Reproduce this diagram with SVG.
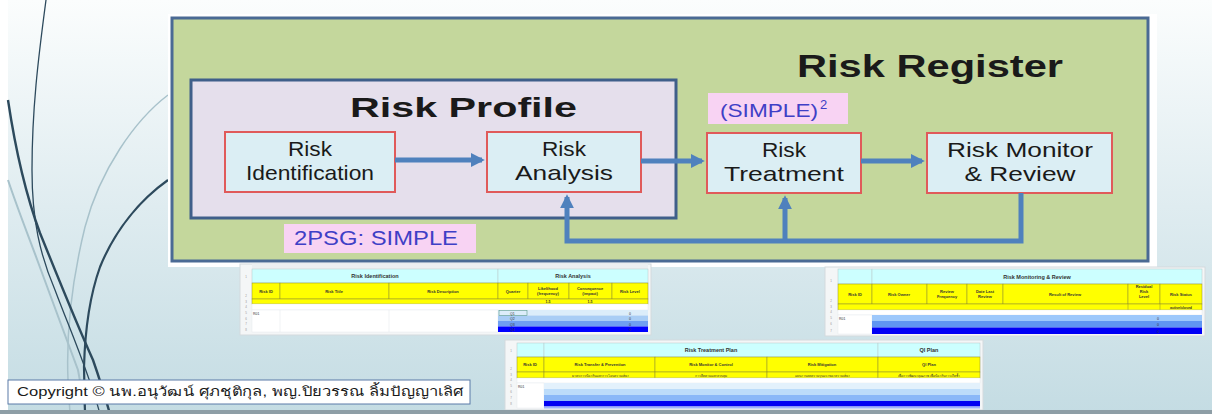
<svg xmlns="http://www.w3.org/2000/svg" width="1212" height="414" viewBox="0 0 1212 414">
<defs>
<linearGradient id="bg" x1="0" y1="0" x2="0" y2="1">
<stop offset="0" stop-color="#fbfdfd"/>
<stop offset="0.5" stop-color="#dfecf0"/>
<stop offset="1" stop-color="#c4dce3"/>
</linearGradient>
<marker id="ah" viewBox="0 0 10 10" refX="8" refY="5" markerWidth="2.8" markerHeight="3" orient="auto" markerUnits="strokeWidth">
<path d="M0,0 L10,5 L0,10 z" fill="#4f81bd"/>
</marker>
<style>
.t{font-family:"Liberation Sans",Arial,sans-serif;fill:#1a1a1a}
.b{font-weight:bold}
.lbl{font-size:21px;text-anchor:middle}
.box{fill:#dbeef4;stroke:#e05a5a;stroke-width:2}
.pink{fill:#f8d3f3}
.pt{font-family:"Liberation Sans",Arial,sans-serif;fill:#3f3fc6}
.con{fill:none;stroke:#4f81bd;stroke-width:5}
.cy{fill:#ccffff;stroke:#b8c8c8;stroke-width:0.5}
.ye{fill:#ffff00;stroke:#8a8a30;stroke-width:0.5}
.wh{fill:#ffffff;stroke:#e2e6e8;stroke-width:0.4}
.st{font-family:"Liberation Sans",Arial,sans-serif;font-weight:bold;fill:#333;text-anchor:middle}
.sm{font-family:"Liberation Sans",Arial,sans-serif;fill:#333}
.rn{font-family:"Liberation Sans",Arial,sans-serif;fill:#999;font-size:3px;text-anchor:middle}
.curve{fill:none;stroke:#2d4a5d}
.curvel{fill:none;stroke:#a8c2cb}
</style>
</defs>
<rect x="0" y="0" width="1212" height="414" fill="url(#bg)"/>
<rect x="0" y="0" width="8" height="414" fill="#ffffff"/>
<g id="decor">
<path class="curvel" stroke-width="1.5" d="M168,95 C135,120 100,170 85,227 C72,280 66,330 68,380 L70,414"/>
<path class="curvel" stroke-width="2" d="M8,180 C18,210 30,240 38,262 C50,295 65,335 78,370 L86,414"/>
<path class="curve" stroke-width="1.3" d="M46,0 C38,60 32,110 32,170 C32,220 40,255 55,290 C70,330 88,370 100,414"/>
<path class="curve" stroke-width="2.4" d="M8,100 C14,140 24,190 40,233 C55,270 75,320 93,360 C100,380 106,400 110,414"/>
<path class="curve" stroke-width="2.2" d="M168,180 C140,200 115,230 100,267 C90,295 85,330 84,367 L85,414"/>
</g>
<rect x="168" y="14" width="989" height="253" fill="#ffffff"/>
<g id="risk-register">
<rect x="172" y="18" width="976" height="243" fill="#c4d79c" stroke="#4a6a94" stroke-width="3"/>
<text class="t b" x="797" y="77" font-size="32" textLength="266" lengthAdjust="spacingAndGlyphs">Risk Register</text>
</g>
<g id="risk-profile">
<rect x="191" y="80" width="485" height="138" fill="#e5dfec" stroke="#3f5f8a" stroke-width="3"/>
<text class="t b" x="350" y="117" font-size="28" textLength="227" lengthAdjust="spacingAndGlyphs">Risk Profile</text>
</g>
<g id="risk-identification">
<rect class="box" x="225" y="132" width="170" height="60"/>
<text class="t lbl" x="310" y="156" textLength="44" lengthAdjust="spacingAndGlyphs">Risk</text>
<text class="t lbl" x="310" y="180" textLength="128" lengthAdjust="spacingAndGlyphs">Identification</text>
</g>
<g id="risk-analysis">
<rect class="box" x="487" y="132" width="154" height="60"/>
<text class="t lbl" x="564" y="156" textLength="44" lengthAdjust="spacingAndGlyphs">Risk</text>
<text class="t lbl" x="564" y="180" textLength="98" lengthAdjust="spacingAndGlyphs">Analysis</text>
</g>
<g id="risk-treatment">
<rect class="box" x="707" y="133" width="154" height="60"/>
<text class="t lbl" x="784" y="157" textLength="44" lengthAdjust="spacingAndGlyphs">Risk</text>
<text class="t lbl" x="784" y="181" textLength="120" lengthAdjust="spacingAndGlyphs">Treatment</text>
</g>
<g id="risk-monitor">
<rect class="box" x="927" y="133" width="185" height="60"/>
<text class="t lbl" x="1020" y="157" textLength="146" lengthAdjust="spacingAndGlyphs">Risk Monitor</text>
<text class="t lbl" x="1020" y="181" textLength="111" lengthAdjust="spacingAndGlyphs">&amp; Review</text>
</g>
<g id="simple2">
<rect class="pink" x="708" y="93" width="140" height="31"/>
<text class="pt" x="720" y="117" font-size="19"><tspan textLength="98" lengthAdjust="spacingAndGlyphs">(SIMPLE)</tspan><tspan font-size="13" dy="-8" dx="2">2</tspan></text>
</g>
<g id="psg">
<rect class="pink" x="284" y="224" width="192" height="29"/>
<text class="pt" x="294" y="245" font-size="20" textLength="164" lengthAdjust="spacingAndGlyphs">2PSG: SIMPLE</text>
</g>
<g id="connectors">
<line class="con" x1="395" y1="160" x2="482" y2="160" marker-end="url(#ah)"/>
<line class="con" x1="641" y1="161" x2="702" y2="161" marker-end="url(#ah)"/>
<line class="con" x1="861" y1="161" x2="922" y2="161" marker-end="url(#ah)"/>
<polyline class="con" points="1021,193 1021,241 567,241 567,197" marker-end="url(#ah)"/>
<line class="con" x1="785" y1="241" x2="785" y2="198" marker-end="url(#ah)"/>
</g>
<g id="sheet-risk-profile">
<rect x="240" y="264" width="411" height="71" fill="#f4f6f7" stroke="#d4dadd" stroke-width="1"/>
<rect x="252" y="264" width="396" height="5" fill="#eceff1"/>
<rect class="cy" x="252" y="269" width="246" height="14"/>
<rect class="cy" x="498" y="269" width="150" height="14"/>
<text class="st" x="375" y="278" font-size="5.5">Risk Identification</text>
<text class="st" x="573" y="278" font-size="5.5">Risk Analysis</text>
<rect class="ye" x="252" y="283" width="28" height="16"/>
<rect class="ye" x="280" y="283" width="109" height="16"/>
<rect class="ye" x="389" y="283" width="109" height="16"/>
<rect class="ye" x="498" y="283" width="30" height="16"/>
<rect class="ye" x="528" y="283" width="41" height="16"/>
<rect class="ye" x="569" y="283" width="43" height="16"/>
<rect class="ye" x="612" y="283" width="36" height="16"/>
<text class="st" x="266" y="292.5" font-size="4">Risk ID</text>
<text class="st" x="334" y="292.5" font-size="4">Risk Title</text>
<text class="st" x="443" y="292.5" font-size="4">Risk Description</text>
<text class="st" x="513" y="292.5" font-size="4">Quarter</text>
<text class="st" x="548" y="290" font-size="4">Likelihood</text>
<text class="st" x="548" y="295" font-size="4">(frequency)</text>
<text class="st" x="590" y="290" font-size="4">Consequence</text>
<text class="st" x="590" y="295" font-size="4">(impact)</text>
<text class="st" x="630" y="292.5" font-size="4">Risk Level</text>
<rect class="ye" x="252" y="299" width="396" height="5"/>
<text class="st" x="548" y="303" font-size="3.5">1-5</text>
<text class="st" x="590" y="303" font-size="3.5">1-5</text>
<rect class="wh" x="252" y="304" width="396" height="6"/>
<rect class="wh" x="252" y="310" width="246" height="22"/>
<line x1="280" y1="310" x2="280" y2="332" stroke="#e2e6e8" stroke-width="0.5"/>
<line x1="389" y1="310" x2="389" y2="332" stroke="#e2e6e8" stroke-width="0.5"/>
<rect x="498" y="310" width="150" height="5.5" fill="#dcedfa"/>
<rect x="498" y="315.5" width="150" height="5.5" fill="#a9cdf5"/>
<rect x="498" y="321" width="150" height="5.5" fill="#6f9ff2"/>
<rect x="498" y="326.5" width="150" height="5.5" fill="#0000ff"/>
<rect x="499" y="310.5" width="28" height="5" fill="none" stroke="#5a9a8a" stroke-width="0.6"/>
<text class="sm" x="253" y="314.5" font-size="3.5">R01</text>
<text class="sm" x="510" y="314.5" font-size="3.5">Q1</text>
<text class="sm" x="510" y="320" font-size="3.5">Q2</text>
<text class="sm" x="510" y="325.5" font-size="3.5">Q3</text>
<text class="sm" x="510" y="331" font-size="3.5">Q4</text>
<text class="sm" x="629" y="314.5" font-size="3.5">0</text>
<text class="sm" x="629" y="320" font-size="3.5">0</text>
<text class="sm" x="629" y="325.5" font-size="3.5">0</text>
<text class="sm" x="629" y="331" font-size="3.5">0</text>
<text class="rn" x="246" y="278">1</text>
<text class="rn" x="246" y="297">2</text>
<text class="rn" x="246" y="303">3</text>
<text class="rn" x="246" y="308">4</text>
<text class="rn" x="246" y="314">5</text>
<text class="rn" x="246" y="320">6</text>
<text class="rn" x="246" y="325">7</text>
<text class="rn" x="246" y="331">8</text>
</g>
<g id="sheet-monitoring">
<rect x="825" y="267" width="380" height="69" fill="#f4f6f7" stroke="#d4dadd" stroke-width="1"/>
<rect class="cy" x="838" y="269" width="34" height="15"/>
<rect class="cy" x="872" y="269" width="330" height="15"/>
<text class="st" x="1037" y="279" font-size="5.5">Risk Monitoring &amp; Review</text>
<rect class="ye" x="838" y="284" width="34" height="20"/>
<rect class="ye" x="872" y="284" width="55" height="20"/>
<rect class="ye" x="927" y="284" width="40" height="20"/>
<rect class="ye" x="967" y="284" width="36" height="20"/>
<rect class="ye" x="1003" y="284" width="125" height="20"/>
<rect class="ye" x="1128" y="284" width="32" height="20"/>
<rect class="ye" x="1160" y="284" width="42" height="20"/>
<text class="st" x="855" y="296" font-size="4">Risk ID</text>
<text class="st" x="899" y="296" font-size="4">Risk Owner</text>
<text class="st" x="947" y="293" font-size="4">Review</text>
<text class="st" x="947" y="298" font-size="4">Frequency</text>
<text class="st" x="985" y="293" font-size="4">Date Last</text>
<text class="st" x="985" y="298" font-size="4">Review</text>
<text class="st" x="1065" y="296" font-size="4">Result of Review</text>
<text class="st" x="1144" y="288" font-size="4">Residual</text>
<text class="st" x="1144" y="293" font-size="4">Risk</text>
<text class="st" x="1144" y="298" font-size="4">Level</text>
<text class="st" x="1181" y="296" font-size="4">Risk Status</text>
<rect class="ye" x="838" y="304" width="364" height="6"/>
<line x1="1128" y1="304" x2="1128" y2="310" stroke="#8a8a30" stroke-width="0.5"/>
<line x1="1160" y1="304" x2="1160" y2="310" stroke="#8a8a30" stroke-width="0.5"/>
<text class="st" x="1181" y="308.5" font-size="3.5">active/closed</text>
<rect class="wh" x="838" y="310" width="364" height="5"/>
<rect class="wh" x="838" y="315" width="34" height="19"/>
<rect x="872" y="315" width="330" height="6" fill="#9dc8fb"/>
<rect x="872" y="321" width="330" height="6.5" fill="#5f95f2"/>
<rect x="872" y="327.5" width="330" height="6.5" fill="#0000f5"/>
<text class="sm" x="839" y="319.5" font-size="3.5">R01</text>
<text class="sm" x="1157" y="319.5" font-size="3.5">0</text>
<text class="sm" x="1157" y="326" font-size="3.5">0</text>
<text class="sm" x="1157" y="332.5" font-size="3.5">0</text>
<text class="rn" x="831" y="282">1</text>
<text class="rn" x="831" y="302">2</text>
<text class="rn" x="831" y="308">3</text>
<text class="rn" x="831" y="313">4</text>
<text class="rn" x="831" y="319">5</text>
<text class="rn" x="831" y="325">6</text>
<text class="rn" x="831" y="332">7</text>
</g>
<g id="sheet-treatment">
<rect x="505" y="340" width="478" height="70" fill="#f4f6f7" stroke="#d4dadd" stroke-width="1"/>
<rect class="cy" x="517" y="343" width="27" height="14"/>
<rect class="cy" x="544" y="343" width="334" height="14"/>
<rect class="cy" x="878" y="343" width="102" height="14"/>
<text class="st" x="711" y="352" font-size="5.5">Risk Treatment Plan</text>
<text class="st" x="929" y="352" font-size="5.5">QI Plan</text>
<rect class="ye" x="517" y="357" width="27" height="15"/>
<rect class="ye" x="544" y="357" width="111" height="15"/>
<rect class="ye" x="655" y="357" width="112" height="15"/>
<rect class="ye" x="767" y="357" width="111" height="15"/>
<rect class="ye" x="878" y="357" width="102" height="15"/>
<text class="st" x="530" y="366" font-size="4">Risk ID</text>
<text class="st" x="600" y="366" font-size="4">Risk  Transfer &amp; Prevention</text>
<text class="st" x="711" y="366" font-size="4">Risk Monitor &amp; Control</text>
<text class="st" x="822" y="366" font-size="4">Risk Mitigation</text>
<text class="st" x="929" y="366" font-size="4">QI Plan</text>
<rect class="ye" x="517" y="372" width="27" height="6"/>
<rect class="ye" x="544" y="372" width="111" height="6"/>
<rect class="ye" x="655" y="372" width="112" height="6"/>
<rect class="ye" x="767" y="372" width="111" height="6"/>
<rect class="ye" x="878" y="372" width="102" height="6"/>
<text class="sm" x="600" y="376.5" font-size="3.2" text-anchor="middle">มาตรการป้องกันและการโอนความเสี่ยง</text>
<text class="sm" x="711" y="376.5" font-size="3.2" text-anchor="middle">การติดตามและควบคุม</text>
<text class="sm" x="822" y="376.5" font-size="3.2" text-anchor="middle">แผนงานลดความรุนแรงของความเสี่ยง</text>
<text class="sm" x="929" y="376.5" font-size="3.2" text-anchor="middle">เพื่อการพัฒนาคุณภาพ เพื่อป้องกันการเกิดซ้ำ</text>
<rect class="wh" x="517" y="378" width="463" height="5"/>
<rect class="wh" x="517" y="383" width="27" height="25"/>
<rect x="544" y="383" width="436" height="6" fill="#e3f1fc"/>
<rect x="544" y="389" width="436" height="6" fill="#bcdcfa"/>
<rect x="544" y="395" width="436" height="6" fill="#8ab8f8"/>
<rect x="544" y="401" width="436" height="5.5" fill="#0000f2"/>
<rect x="544" y="406.5" width="436" height="2" fill="#9db3fb"/>
<text class="sm" x="518" y="387.5" font-size="3.5">R01</text>
<text class="rn" x="511" y="352">1</text>
<text class="rn" x="511" y="370">2</text>
<text class="rn" x="511" y="376">3</text>
<text class="rn" x="511" y="381">4</text>
<text class="rn" x="511" y="387">5</text>
<text class="rn" x="511" y="393">6</text>
<text class="rn" x="511" y="399">7</text>
<text class="rn" x="511" y="405">8</text>
</g>
<g id="copyright">
<rect x="8" y="380" width="462" height="24" fill="#ffffff" stroke="#5a7aa8" stroke-width="1"/>
<text class="t" x="17" y="396" font-size="13" textLength="446" lengthAdjust="spacingAndGlyphs">Copyright © นพ.อนุวัฒน์ ศุภชุติกุล, พญ.ปิยวรรณ ลิ้มปัญญาเลิศ</text>
</g>
<rect x="0" y="410" width="1212" height="4" fill="#8e9ea6"/>
</svg>
